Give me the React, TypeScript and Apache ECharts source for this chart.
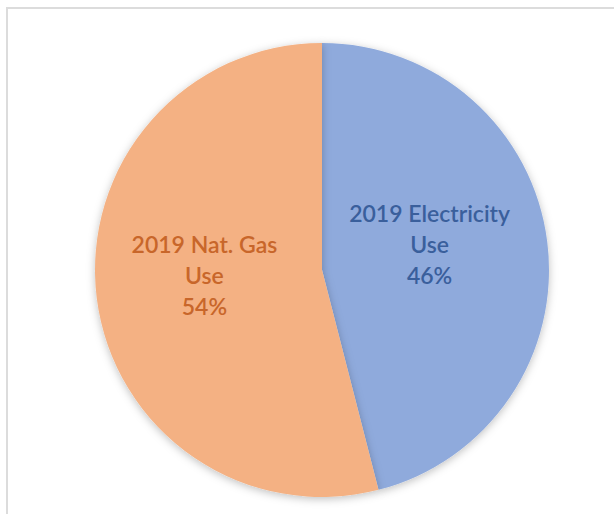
import React, { useEffect, useRef } from "react";
import * as echarts from "echarts";

const categories = ["2019 Electricity Use", "2019 Nat. Gas Use"];
const labelLines = [["2019 Electricity", "Use"], ["2019 Nat. Gas", "Use"]];
const values = [46, 54];
const sliceColors = ["#8FAADC", "#F4B183"];
const labelColors = ["#3A5F9C", "#C8662A"];

export default function App() {
  const ref = useRef<HTMLDivElement>(null);
  useEffect(() => {
    const chart = echarts.init(ref.current!, null, { renderer: "svg" });
    chart.setOption({
      animation: false,
      backgroundColor: "#ffffff",
      graphic: [
        {
          type: "rect",
          shape: { x: 7, y: 8, width: 620, height: 520 },
          style: { fill: "none", stroke: "#dcdcdc", lineWidth: 2 },
          silent: true,
        },
      ],
      series: [
        {
          type: "pie",
          center: [322, 270],
          radius: 227,
          startAngle: 90,
          clockwise: true,
          itemStyle: {
            shadowBlur: 8,
            shadowColor: "rgba(0,0,0,0.25)",
            shadowOffsetY: 2,
          },
          label: {
            show: true,
            position: "inside",
            fontFamily: "Lato, 'Open Sans', sans-serif",
            fontSize: 23,
            fontWeight: 600,
            lineHeight: 31,
            align: "center",
            formatter: (p: any) =>
              labelLines[p.dataIndex].join("\n") + "\n" + Math.round(p.percent) + "%",
          },
          labelLine: { show: false },
          data: categories.map((c, i) => ({
            name: c,
            value: values[i],
            itemStyle: { color: sliceColors[i] },
            label: { color: labelColors[i], offset: i === 0 ? [-8, -11] : [-2, -10] },
          })),
        },
      ],
    });
    return () => chart.dispose();
  }, []);
  return <div ref={ref} style={{ width: 614, height: 514, position: "absolute", left: 0, top: 0 }} />;
}
